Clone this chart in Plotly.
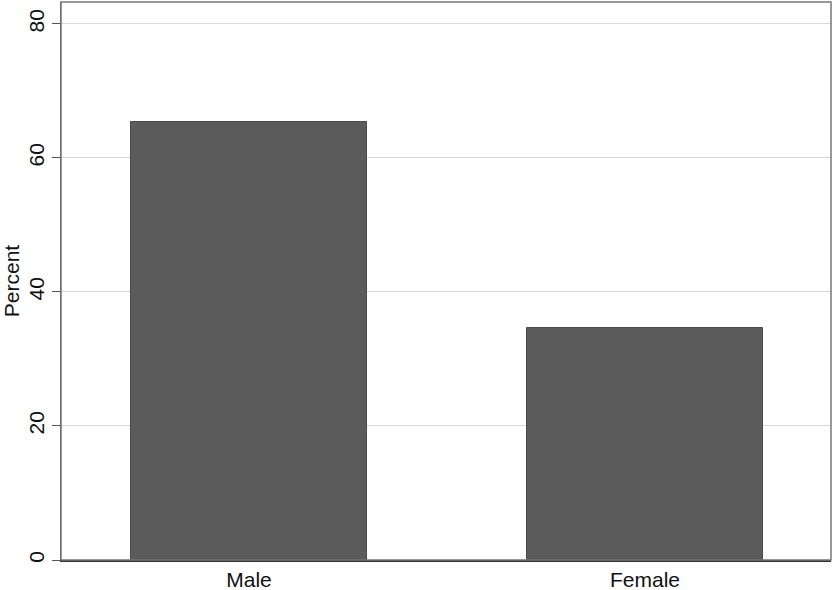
import plotly.graph_objects as go

categories = ["Male", "Female"]
percent = [65.4, 34.6]
y_ticks = [0, 20, 40, 60, 80]

fig = go.Figure()
fig.add_trace(go.Bar(
    x=[0, 1], y=percent, width=0.596,
    marker=dict(color="#5b5b5b", line=dict(color="#4a4a4a", width=1)),
    showlegend=False,
))

fig.update_layout(
    width=834, height=590,
    margin=dict(l=61, r=3, t=2, b=30),
    paper_bgcolor="white", plot_bgcolor="white",
    font=dict(family="Liberation Sans, Arial, sans-serif", size=21, color="#111"),
    bargap=0,
)
fig.update_xaxes(
    range=[-0.4747, 1.4697],
    tickmode="array", tickvals=[0, 1], ticktext=categories,
    showgrid=False, zeroline=False, automargin=False,
    showline=True, linecolor="#333", linewidth=1.5,
    ticks="", ticklen=0, tickfont=dict(size=21),
)
fig.update_yaxes(
    range=[0, 83.28],
    tickmode="array", tickvals=y_ticks, ticktext=[str(v) for v in y_ticks],
    tickangle=-90, automargin=False,
    showgrid=True, gridcolor="#d6d6d6", gridwidth=1.2,
    zeroline=False,
    showline=True, linecolor="#555", linewidth=1.2,
    ticks="outside", ticklen=8, tickcolor="#555", tickfont=dict(size=21),
    title=dict(text="Percent", font=dict(size=21), standoff=6),
)
fig.add_shape(type="rect", xref="paper", yref="paper", x0=0, x1=1, y0=0, y1=1,
              line=dict(color="#777", width=1.5), layer="above")
fig.write_html("out.html", config={"displayModeBar": False},
               post_script="document.body.style.margin='0';document.body.style.padding='0';")
